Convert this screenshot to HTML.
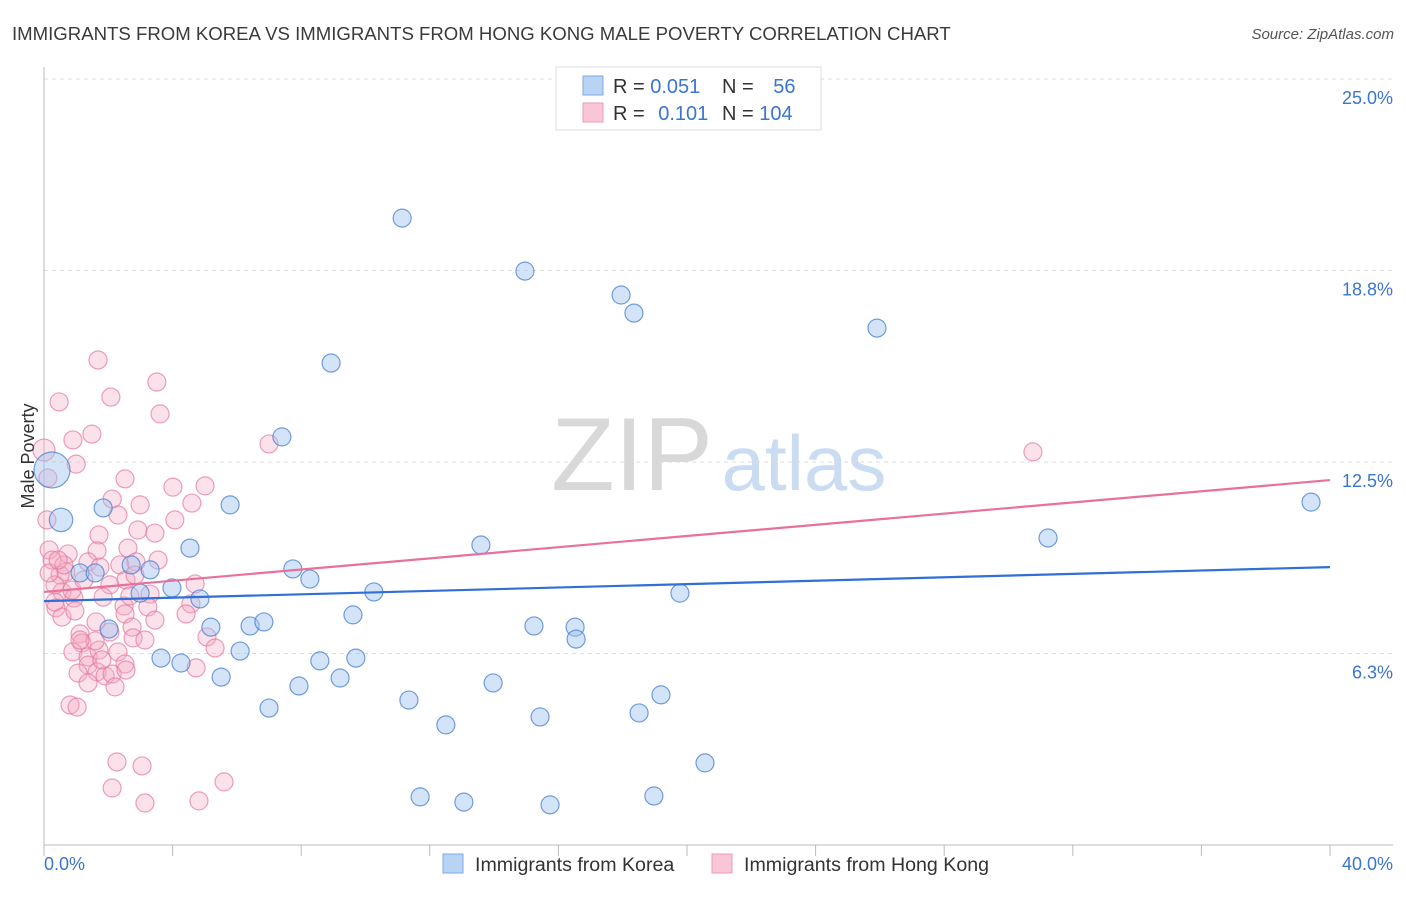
<!DOCTYPE html>
<html><head><meta charset="utf-8"><style>
body{margin:0;background:#fff;font-family:"Liberation Sans",sans-serif;}
svg text{font-family:"Liberation Sans",sans-serif;}
</style></head><body>
<svg id="chart" width="1406" height="892" xmlns="http://www.w3.org/2000/svg">
<text x="12" y="40" font-size="18.6" fill="#3a3a3a">IMMIGRANTS FROM KOREA VS IMMIGRANTS FROM HONG KONG MALE POVERTY CORRELATION CHART</text>
<text x="1394" y="39" font-size="15" fill="#555" font-style="italic" text-anchor="end">Source: ZipAtlas.com</text>
<g>
<text x="632" y="490" font-size="104" fill="#d8d8d8" text-anchor="middle" font-family="Liberation Serif, serif">ZIP</text>
<text x="804" y="490" font-size="78" fill="#c9dcf2" text-anchor="middle">atlas</text>
</g>
<g id="grid"></g>
<g id="axes"></g>
<g id="marks"></g>
<g>
<rect x="556" y="67" width="265" height="63" fill="#fff" stroke="#ddd"/>
<rect x="583" y="76" width="20" height="19" fill="#b9d3f4" stroke="#7eaae6"/>
<rect x="583" y="103" width="20" height="19" fill="#f9c6d6" stroke="#ee9ab5"/>
<text x="613" y="93" font-size="20" fill="#333">R = <tspan fill="#3a75d0">0.051</tspan></text>
<text x="722" y="93" font-size="20" fill="#333">N = <tspan fill="#3a75d0" dx="14">56</tspan></text>
<text x="613" y="120" font-size="20" fill="#333">R = <tspan fill="#3a75d0" dx="8">0.101</tspan></text>
<text x="722" y="120" font-size="20" fill="#333">N = <tspan fill="#3a75d0">104</tspan></text>
</g>
<text transform="translate(34,456) rotate(-90)" font-size="18" fill="#333" text-anchor="middle">Male Poverty</text>
<g>
<rect x="443" y="854" width="20" height="19" fill="#b9d3f4" stroke="#7eaae6"/>
<text x="475" y="871" font-size="19.6" fill="#333">Immigrants from Korea</text>
<rect x="712" y="854" width="20" height="19" fill="#f9c6d6" stroke="#ee9ab5"/>
<text x="744" y="871" font-size="19.6" fill="#333">Immigrants from Hong Kong</text>
</g>
</svg>
<script>
const yTicks=[6.25,12.5,18.75,25];
const yTickLabels=["6.3%","12.5%","18.8%","25.0%"];
const xTickLabels=["0.0%","40.0%"];
const koreaX=[11.14,14.96,17.95,18.35,25.91,8.93,7.40,5.79,1.84,0.53,0.25,4.54,13.59,31.23,39.41,7.74,8.27,2.71,3.30,1.12,1.59,3.98,4.85,10.26,19.78,9.61,5.19,6.41,6.84,15.24,16.52,16.55,2.02,6.10,3.64,4.26,8.58,9.70,5.51,7.93,9.21,13.97,19.19,7.00,11.35,12.50,15.43,18.51,20.56,11.70,13.06,15.74,18.97,2.99];
const koreaY=[20.46,18.73,17.95,17.36,16.87,15.73,13.32,11.10,11.00,10.61,12.24,9.69,9.79,10.02,11.19,9.01,8.68,9.14,8.98,8.88,8.88,8.39,8.03,8.26,8.22,7.51,7.11,7.15,7.28,7.15,7.11,6.72,7.05,6.33,6.10,5.94,6.01,6.10,5.48,5.19,5.45,5.29,4.90,4.47,4.73,3.92,4.18,4.31,2.68,1.57,1.40,1.31,1.60,8.22];
const koreaSize=[1,1,1,1,1,1,1,1,1,1.3,2,1,1,1,1,1,1,1,1,1,1,1,1,1,1,1,1,1,1,1,1,1,1,1,1,1,1,1,1,1,1,1,1,1,1,1,1,1,1,1,1,1,1,1];
const hkX=[1.68,0.47,2.08,3.51,3.61,1.49,0.90,7.00,30.76,1.00,2.52,4.01,5.01,0.12,2.12,4.60,2.99,4.07,2.30,1.71,2.92,3.45,0.16,0.75,1.65,2.61,3.55,0.25,0.68,1.37,0.50,1.74,2.36,2.86,2.05,2.55,4.70,3.30,0.56,0.93,0.37,3.23,2.49,4.57,4.42,2.52,1.62,2.74,1.12,2.05,2.77,5.07,1.18,5.32,0.90,1.37,1.71,2.30,2.52,1.37,1.65,1.06,1.90,2.12,4.73,1.37,2.21,2.55,0.81,1.03,2.27,3.05,2.12,3.14,4.82,5.60,0,0.09,0.34,0.62,0.87,1.24,1.84,2.67,3.14,0.34,1.59,3.45,0.56,0.96,2.83,0.16,0.44,1.12,1.80];
const hkY=[15.83,14.46,14.62,15.11,14.07,13.41,13.22,13.09,12.83,12.43,11.95,11.68,11.72,11.98,11.29,11.16,11.10,10.61,10.77,10.12,10.28,10.18,9.63,9.50,9.60,9.69,9.30,9.30,8.91,9.24,8.81,9.07,9.14,9.24,8.49,8.65,8.52,8.19,8.26,8.06,7.74,7.77,7.80,7.87,7.54,7.54,7.28,7.11,6.89,6.95,6.76,6.79,6.59,6.43,6.30,6.14,6.36,6.30,5.91,5.87,5.65,5.61,5.52,5.58,5.78,5.29,5.16,5.71,4.57,4.50,2.71,2.58,1.86,1.37,1.44,2.06,12.89,10.61,8.49,9.14,8.32,8.65,8.09,8.13,6.69,7.93,6.66,7.34,7.44,7.64,8.81,8.88,9.30,6.69,6.04];
const koreaTrend=[7.96,9.07];
const hkTrend=[8.26,11.91];
const xDomain=[0,40];
const X0=44,X1=1330,Y0=845,YTOP=79;
const xs=v=>X0+(v-xDomain[0])/(xDomain[1]-xDomain[0])*(X1-X0);
const ys=v=>Y0-v/25*(Y0-YTOP);
const NS="http://www.w3.org/2000/svg";
function mk(tag,parent,attrs){const e=document.createElementNS(NS,tag);for(const k in attrs)e.setAttribute(k,attrs[k]);parent.appendChild(e);return e;}
const grid=document.getElementById('grid'),axes=document.getElementById('axes'),marks=document.getElementById('marks');
yTicks.forEach((t,i)=>{
 const l=mk('line',grid,{x1:X0,x2:1393,y1:ys(t),y2:ys(t),stroke:'#ddd','stroke-dasharray':'4,4'});
 
 
 const tx=mk('text',axes,{x:1393,y:ys(t)+25,'font-size':18,fill:'#3a75d0','text-anchor':'end'});
 tx.textContent=yTickLabels[i];
 
 
});
const ax=mk('line',axes,{x1:X0,x2:X0,y1:67,y2:Y0,stroke:'#bbb'});


const bx=mk('line',axes,{x1:X0,x2:1393,y1:Y0,y2:Y0,stroke:'#bbb'});


for(let v=0;v<=40;v+=4){const t=mk('line',axes,{x1:xs(v),x2:xs(v),y1:Y0,y2:Y0+11,stroke:'#bbb'});
 
 }
const xl0=mk('text',axes,{x:X0,y:870,'font-size':18,fill:'#3a75d0'});xl0.textContent=xTickLabels[0];


const xl1=mk('text',axes,{x:1393,y:870,'font-size':18,fill:'#3a75d0','text-anchor':'end'});xl1.textContent=xTickLabels[1];


hkX.forEach((x,i)=>{const c=mk('circle',marks,{cx:xs(x),cy:ys(hkY[i]),r:i==76?11:9,fill:'rgba(244,170,195,0.35)',stroke:'rgba(230,120,155,0.7)','stroke-width':1.2});
 
 });
koreaX.forEach((x,i)=>{const c=mk('circle',marks,{cx:xs(x),cy:ys(koreaY[i]),r:9*koreaSize[i],fill:'rgba(160,195,240,0.45)',stroke:'rgba(70,125,210,0.75)','stroke-width':1.2});
 
 });
const tl1=mk('line',marks,{x1:X0,x2:X1,y1:ys(hkTrend[0]),y2:ys(hkTrend[1]),stroke:'#e8709a','stroke-width':2.2});


const tl2=mk('line',marks,{x1:X0,x2:X1,y1:ys(koreaTrend[0]),y2:ys(koreaTrend[1]),stroke:'#2f6fd6','stroke-width':2.2});


</script>
</body></html>
